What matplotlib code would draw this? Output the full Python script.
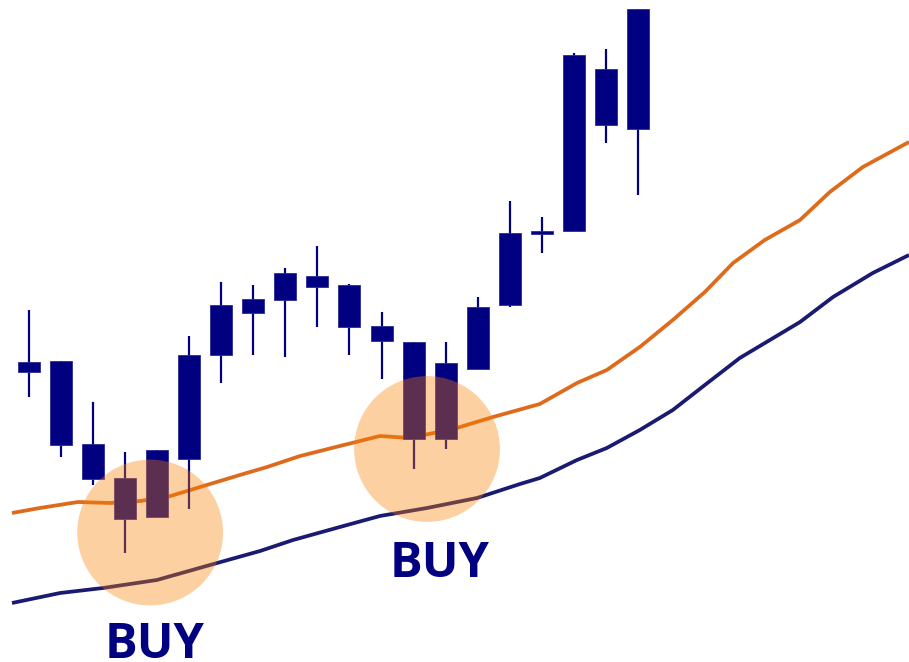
import numpy as np
import matplotlib
matplotlib.use('Agg')
import matplotlib.pyplot as plt

# candle data (bar index, open, high, low, close)
bar_idx = np.arange(20)
opens  = [29.0, 30.1, 21.8, 18.4, 14.5, 20.3, 30.7, 34.9, 36.2, 37.5,
          37.7, 33.6, 32.0, 22.3, 29.3, 35.7, 42.8, 43.1, 59.3, 53.3]
highs  = [35.2, 30.1, 26.0, 21.0, 21.2, 32.6, 38.0, 37.7, 39.4, 41.6,
          37.8, 35.0, 32.0, 32.0, 36.5, 46.1, 44.5, 60.9, 61.3, 65.3]
lows   = [26.5, 20.5, 17.7, 10.9, 14.5, 15.3, 27.9, 30.7, 30.5, 33.5,
          30.7, 28.3, 19.3, 21.3, 29.3, 35.5, 40.9, 43.1, 51.9, 46.7]
closes = [30.0, 21.7, 18.3, 14.3, 21.2, 30.7, 35.7, 36.3, 38.9, 38.6,
          33.5, 32.1, 22.3, 29.9, 35.5, 42.9, 43.1, 60.7, 53.7, 65.3]

# fast moving average (orange)
fast_x = [-0.53, 0.34, 1.53, 2.53, 3.46, 4.31, 5.34, 6.58, 7.43, 8.46, 9.70, 10.95, 11.89,
          13.35, 14.48, 15.94, 17.10, 18.03, 19.06, 20.09, 21.09, 21.97, 22.96, 24.06,
          24.99, 26.02, 27.46]
fast_ma = [14.9, 15.4, 16.0, 15.9, 16.1, 16.5, 17.5, 18.7, 19.5, 20.6, 21.6, 22.6, 22.4,
           23.4, 24.5, 25.8, 27.9, 29.2, 31.5, 34.2, 37.0, 39.9, 42.2, 44.2,
           47.0, 49.5, 52.0]

# slow moving average (dark blue)
slow_x = [-0.53, 0.97, 2.31, 3.99, 5.87, 7.21, 8.24, 9.70, 10.95, 12.42, 13.98, 15.32,
          15.94, 17.10, 18.03, 19.06, 20.09, 21.09, 22.18, 23.12, 24.06, 25.09, 26.33, 27.46]
slow_ma = [5.9, 6.9, 7.4, 8.2, 9.9, 11.1, 12.2, 13.5, 14.6, 15.4, 16.4, 17.8,
           18.4, 20.2, 21.4, 23.2, 25.2, 27.7, 30.4, 32.2, 34.0, 36.5, 38.9, 40.7]

# buy signals: circle centre and label position
buy_x = [3.78, 12.42]
buy_y = [12.95, 21.3]
label_x = [3.93, 12.81]
label_y = [0.4, 8.5]

navy = '#000080'

fig = plt.figure(figsize=(9.09, 6.62), dpi=100)
ax = fig.add_axes([0, 0, 1, 1])

ax.plot(slow_x, slow_ma, color='#1a1a72', lw=2.7, zorder=2, solid_capstyle='butt')
ax.plot(fast_x, fast_ma, color='#de6a1c', lw=2.7, zorder=2, solid_capstyle='butt')

# candles
ax.vlines(bar_idx, lows, highs, color=navy, lw=1.6, zorder=3)
body_h = np.array(closes) - np.array(opens)
ax.bar(bar_idx, body_h, bottom=opens, width=0.686, color=navy,
       edgecolor='#2a2a98', linewidth=0.6, zorder=4)

# highlight circles
ax.scatter(buy_x, buy_y, s=105 ** 2, color='#fa8000', alpha=0.37,
           edgecolors='none', zorder=5)

for tx, ty in zip(label_x, label_y):
    ax.text(tx, ty, 'BUY', ha='center', va='baseline', color=navy,
            fontsize=35, fontweight='bold', family=['Open Sans', 'DejaVu Sans'], zorder=6)

ax.set_xlim(-0.905, 27.46)
ax.set_ylim(0, 66.2)
ax.axis('off')

fig.savefig('out.png', dpi=100, facecolor='white')
